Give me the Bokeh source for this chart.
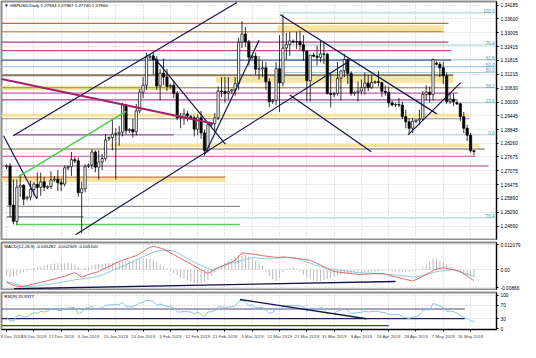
import pandas as pd
from bokeh.plotting import figure
from bokeh.layouts import column
from bokeh.models import ColumnDataSource, FixedTicker, PrintfTickFormatter, Label, Range1d
from bokeh.core.properties import value
from bokeh.embed import file_html
from bokeh.resources import INLINE

FONT = "Liberation Sans"

# ---------------- data ----------------
dates = [d for d in pd.date_range("2018-12-09", "2019-05-17") if d.dayofweek != 5]

opens = [1.2725,1.2728,1.2560,1.2490,1.2637,1.2645,1.2590,1.2594,1.2627,1.2650,1.2636,1.2660,
         1.2635,1.2640,1.2668,1.2672,1.2656,1.2650,1.2720,1.2725,1.2755,1.2750,1.2613,1.2630,
         1.2728,1.2732,1.2788,1.2723,1.2745,1.2760,1.2845,1.2850,1.2865,1.2867,1.2873,1.2990,
         1.2880,1.2885,1.2875,1.2965,1.3045,1.3075,1.3195,1.3200,1.3185,1.3072,1.3127,1.3110,
         1.3070,1.3075,1.3040,1.2935,1.2935,1.2952,1.2940,1.2935,1.2886,1.2935,1.2870,1.2795,
         1.2905,1.2910,1.2935,1.3050,1.3048,1.3041,1.3050,1.3055,1.3082,1.3260,1.3295,1.3262,
         1.3195,1.3200,1.3144,1.3145,1.3150,1.3090,1.3005,1.3010,1.3146,1.3085,1.3235,1.3250,
         1.3265,1.3262,1.3263,1.3249,1.3222,1.3095,1.3205,1.3200,1.3195,1.3210,1.3208,1.3040,
         1.3035,1.3040,1.3105,1.3137,1.3185,1.3125,1.3040,1.3045,1.3050,1.3065,1.3085,1.3065,
         1.3087,1.3090,1.3086,1.3049,1.3045,1.2999,1.2990,1.2992,1.2990,1.2940,1.2918,1.2890,
         1.2920,1.2925,1.2930,1.3035,1.3045,1.3035,1.3170,1.3165,1.3150,1.3115,1.3005,1.3015,
         1.3000,1.2995,1.2940,1.2890,1.2860,1.27934]
highs = [1.2735,1.2740,1.2670,1.2670,1.2692,1.2650,1.2598,1.2665,1.2660,1.2700,1.2700,1.2680,
         1.2645,1.2705,1.2685,1.2710,1.2675,1.2730,1.2730,1.2788,1.2768,1.2765,1.2660,1.2735,
         1.2738,1.2800,1.2795,1.2795,1.2780,1.2865,1.2855,1.2930,1.2890,1.2900,1.3000,1.2995,
         1.2890,1.2930,1.2995,1.3060,1.3110,1.3215,1.3210,1.3215,1.3200,1.3145,1.3190,1.3145,
         1.3080,1.3095,1.3050,1.2955,1.2975,1.2965,1.2948,1.2945,1.2950,1.2965,1.2885,1.2915,
         1.2915,1.2955,1.3070,1.3110,1.3110,1.3110,1.3060,1.3110,1.3280,1.3350,1.3325,1.3270,
         1.3205,1.3215,1.3200,1.3180,1.3175,1.3105,1.3015,1.3175,1.3290,1.3380,1.3300,1.3305,
         1.3272,1.3305,1.3310,1.3290,1.3225,1.3205,1.3215,1.3245,1.3265,1.3265,1.3215,1.3125,
         1.3045,1.3175,1.3140,1.3210,1.3190,1.3135,1.3048,1.3090,1.3100,1.3130,1.3120,1.3120,
         1.3095,1.3135,1.3090,1.3075,1.3070,1.3010,1.2998,1.3020,1.3005,1.2970,1.2935,1.2935,
         1.2928,1.2970,1.3050,1.3075,1.3070,1.3190,1.3178,1.3175,1.3175,1.3130,1.3045,1.3040,
         1.3008,1.3000,1.2960,1.2905,1.2870,1.27967]
lows = [1.2715,1.2507,1.2477,1.2476,1.2595,1.2560,1.2580,1.2580,1.2600,1.2590,1.2600,1.2620,
        1.2628,1.2630,1.2660,1.2620,1.2620,1.2640,1.2710,1.2685,1.2740,1.2596,1.2438,1.2615,
        1.2720,1.2715,1.2700,1.2670,1.2710,1.2750,1.2835,1.2795,1.2670,1.2815,1.2855,1.2865,
        1.2870,1.2850,1.2860,1.2955,1.3020,1.3055,1.3185,1.3120,1.3055,1.3010,1.3075,1.3050,
        1.3060,1.3020,1.2925,1.2890,1.2905,1.2920,1.2930,1.2855,1.2860,1.2845,1.2773,1.2785,
        1.2895,1.2880,1.2925,1.3025,1.3000,1.3015,1.3040,1.3030,1.3055,1.3235,1.3240,1.3160,
        1.3185,1.3120,1.3100,1.3110,1.3055,1.2980,1.2995,1.2990,1.2960,1.3070,1.3185,1.3200,
        1.3255,1.3230,1.3225,1.3180,1.3005,1.3005,1.3195,1.3160,1.3175,1.3165,1.3035,1.2980,
        1.3025,1.3030,1.3010,1.3110,1.3080,1.3030,1.3030,1.3005,1.3035,1.3035,1.3050,1.3060,
        1.3080,1.3070,1.3025,1.3030,1.2980,1.2985,1.2982,1.2980,1.2930,1.2890,1.2866,1.2870,
        1.2912,1.2905,1.2920,1.3010,1.3000,1.3010,1.3160,1.3110,1.3080,1.2995,1.2995,1.2985,
        1.2990,1.2920,1.2870,1.2835,1.2785,1.27740]
closes = [1.2728,1.2560,1.2490,1.2637,1.2645,1.2585,1.2594,1.2627,1.2650,1.2636,1.2660,1.2637,
          1.2640,1.2668,1.2672,1.2656,1.2650,1.2720,1.2725,1.2755,1.2750,1.2613,1.2630,1.2725,
          1.2732,1.2788,1.2723,1.2745,1.2760,1.2840,1.2850,1.2865,1.2867,1.2873,1.2990,1.2880,
          1.2885,1.2875,1.2965,1.3045,1.3075,1.3195,1.3200,1.3185,1.3072,1.3127,1.3110,1.3070,
          1.3075,1.3040,1.2935,1.2935,1.2952,1.2943,1.2935,1.2886,1.2935,1.2870,1.2795,1.2905,
          1.2910,1.2935,1.3050,1.3048,1.3041,1.3048,1.3055,1.3082,1.3260,1.3295,1.3262,1.3195,
          1.3200,1.3144,1.3145,1.3150,1.3090,1.3005,1.3010,1.3146,1.3085,1.3235,1.3250,1.3265,
          1.3262,1.3263,1.3249,1.3222,1.3095,1.3205,1.3200,1.3195,1.3210,1.3208,1.3040,1.3035,
          1.3040,1.3105,1.3137,1.3185,1.3125,1.3040,1.3045,1.3050,1.3065,1.3085,1.3065,1.3087,
          1.3090,1.3086,1.3049,1.3045,1.2999,1.2990,1.2992,1.2990,1.2940,1.2918,1.2890,1.2920,
          1.2925,1.2930,1.3035,1.3045,1.3035,1.3185,1.3165,1.3150,1.3115,1.3005,1.3015,1.3004,
          1.2995,1.2940,1.2890,1.2860,1.2793,1.27900]

macd_main = [-0.0060,-0.0068,-0.0076,-0.0080,-0.0082,-0.0080,-0.0077,-0.0073,-0.0069,-0.0065,
             -0.0061,-0.0057,-0.0053,-0.0049,-0.0045,-0.0040,-0.0036,-0.0032,-0.0026,-0.0020,
             -0.0014,-0.0025,-0.0036,-0.0030,-0.0024,-0.0018,-0.0014,-0.0009,0.0000,0.0008,
             0.0016,0.0024,0.0032,0.0039,0.0046,0.0052,0.0057,0.0063,0.0068,0.0078,
             0.0088,0.0100,0.0108,0.0114,0.0110,0.0105,0.0100,0.0091,0.0082,0.0073,
             0.0064,0.0055,0.0046,0.0037,0.0028,0.0018,0.0009,0.0000,-0.0010,-0.0018,
             -0.0009,0.0000,0.0009,0.0016,0.0024,0.0031,0.0038,0.0046,0.0064,0.0082,
             0.0080,0.0078,0.0076,0.0074,0.0071,0.0068,0.0066,0.0064,0.0062,0.0060,
             0.0060,0.0062,0.0061,0.0059,0.0057,0.0055,0.0053,0.0050,0.0048,0.0046,
             0.0038,0.0030,0.0022,0.0014,0.0006,-0.0002,-0.0009,-0.0011,-0.0013,-0.0015,
             -0.0017,-0.0019,-0.0021,-0.0023,-0.0023,-0.0022,-0.0021,-0.0020,-0.0019,-0.0019,
             -0.0018,-0.0022,-0.0026,-0.0031,-0.0035,-0.0039,-0.0043,-0.0047,-0.0051,-0.0055,
             -0.0048,-0.0040,-0.0032,-0.0023,-0.0015,-0.0005,0.0003,0.0007,0.0009,0.0006,
             0.0003,0.0000,-0.0004,-0.0009,-0.0020,-0.0031,-0.0043,-0.0053]
macd_signal = [-0.0058,-0.0062,-0.0067,-0.0072,-0.0076,-0.0080,-0.0082,-0.0081,-0.0080,-0.0078,
               -0.0076,-0.0074,-0.0072,-0.0069,-0.0067,-0.0064,-0.0061,-0.0058,-0.0055,-0.0052,
               -0.0049,-0.0047,-0.0045,-0.0043,-0.0041,-0.0038,-0.0035,-0.0032,-0.0025,-0.0018,
               -0.0011,-0.0004,0.0003,0.0010,0.0017,0.0024,0.0032,0.0039,0.0047,0.0055,
               0.0062,0.0070,0.0077,0.0084,0.0091,0.0093,0.0094,0.0094,0.0093,0.0091,
               0.0082,0.0073,0.0064,0.0054,0.0045,0.0036,0.0029,0.0021,0.0014,0.0007,
               0.0000,0.0005,0.0011,0.0016,0.0021,0.0027,0.0032,0.0037,0.0041,0.0046,
               0.0050,0.0055,0.0059,0.0058,0.0056,0.0055,0.0055,0.0056,0.0056,0.0057,
               0.0057,0.0058,0.0058,0.0059,0.0059,0.0054,0.0048,0.0042,0.0037,0.0031,
               0.0026,0.0020,0.0015,0.0009,0.0007,0.0004,0.0002,0.0000,-0.0003,-0.0005,
               -0.0007,-0.0009,-0.0012,-0.0014,-0.0015,-0.0016,-0.0017,-0.0018,-0.0019,-0.0020,
               -0.0021,-0.0022,-0.0023,-0.0025,-0.0026,-0.0028,-0.0030,-0.0031,-0.0033,-0.0035,
               -0.0036,-0.0032,-0.0027,-0.0023,-0.0018,-0.0014,-0.0009,-0.0007,-0.0005,-0.0004,
               -0.0002,0.0000,-0.0005,-0.0011,-0.0016,-0.0021,-0.0027,-0.0032]
macd_hist = [-0.0030,-0.0036,-0.0034,-0.0028,-0.0020,-0.0012,-0.0006,0.0004,0.0008,0.0012,
             0.0016,0.0020,0.0024,0.0028,0.0030,0.0032,0.0032,0.0030,0.0032,0.0030,
             0.0026,0.0012,0.0004,0.0010,0.0014,0.0020,0.0024,0.0026,0.0028,0.0030,
             0.0032,0.0034,0.0036,0.0038,0.0040,0.0042,0.0044,0.0046,0.0050,0.0052,
             0.0055,0.0054,0.0052,0.0046,0.0036,0.0026,0.0016,0.0006,-0.0006,-0.0016,
             -0.0026,-0.0036,-0.0044,-0.0052,-0.0060,-0.0066,-0.0068,-0.0064,-0.0058,-0.0050,
             -0.0030,-0.0012,0.0006,0.0020,0.0032,0.0042,0.0052,0.0060,0.0070,0.0078,
             0.0072,0.0064,0.0054,0.0044,0.0032,0.0018,-0.0010,-0.0030,-0.0048,-0.0055,
             -0.0040,-0.0012,0.0004,0.0008,0.0010,0.0006,-0.0010,-0.0024,-0.0036,-0.0046,
             -0.0052,-0.0055,-0.0054,-0.0050,-0.0046,-0.0040,-0.0034,-0.0028,-0.0024,-0.0020,
             -0.0018,-0.0016,-0.0016,-0.0018,-0.0018,-0.0016,-0.0014,-0.0012,-0.0010,-0.0008,
             -0.0006,-0.0004,-0.0004,-0.0006,-0.0008,-0.0010,-0.0012,-0.0012,-0.0010,-0.0008,
             -0.0004,0.0004,0.0012,0.0024,0.0040,0.0055,0.0054,0.0046,0.0036,0.0024,
             0.0012,0.0002,-0.0008,-0.0016,-0.0024,-0.0030,-0.0034,-0.0036]
rsi = [33,24,22,38,40,34,36,43,48,46,52,50,53,58,59,55,54,60,62,64,63,45,48,62,
       63,68,58,61,63,70,71,72,73,73,79,66,66,65,72,77,79,85,85,82,70,74,71,66,
       67,62,50,50,52,51,50,44,50,43,36,50,51,54,66,65,64,65,66,68,82,86,80,70,
       71,63,63,64,56,46,48,62,56,68,69,70,70,70,68,66,52,62,61,60,62,61,45,45,
       46,53,56,60,54,46,47,48,49,52,50,52,52,52,48,48,43,42,42,42,36,33,30,35,
       36,40,55,57,56,76,72,68,63,52,53,51,47,40,33,30,23,21]

tick_labels = ["9 Dec 2018", "18 Dec 2018", "27 Dec 2018", "6 Jan 2019", "15 Jan 2019",
               "24 Jan 2019", "3 Feb 2019", "12 Feb 2019", "21 Feb 2019", "3 Mar 2019",
               "12 Mar 2019", "21 Mar 2019", "31 Mar 2019", "9 Apr 2019", "18 Apr 2019",
               "28 Apr 2019", "7 May 2019", "16 May 2019"]
price_ticks = [1.34185, 1.33600, 1.33005, 1.32415, 1.31815, 1.31215, 1.30630, 1.30030, 1.29445,
               1.28845, 1.28260, 1.27675, 1.27075, 1.26475, 1.25890, 1.25290, 1.24690, 1.24105]
macd_ticks = [0.012079, 0.0, -0.00866]
macd_tick_text = ["0.012079", "0.00", "-0.00866"]
rsi_ticks = [100, 70, 30, 0]

# support / resistance levels (price) and bands (price pairs)
level_prices = [1.3341, 1.3305, 1.3260, 1.3224, 1.3183, 1.3155, 1.3118, 1.3065, 1.3041, 1.3012,
                1.2931, 1.2862, 1.2801, 1.2769, 1.2728, 1.2680, 1.2554, 1.2509, 1.2477]
band_top = [1.3333, 1.3110, 1.3073, 1.2952, 1.2822, 1.2676]
band_bottom = [1.3305, 1.3086, 1.3053, 1.2940, 1.2810, 1.2659]
fib_prices = [1.3386, 1.3248, 1.3185, 1.3155, 1.3130, 1.3065, 1.3000, 1.2862, 1.2505]
fib_text = ["100.0", "76.4", "61.8", "50.0", "50.0", "38.2", "23.6", "0.0", "76.4"]
last_price = 1.27900

# ---------------- layout / styles ----------------
X0, X1 = -1.5, 143.6
FW = 495
level_span = [(-1.5, 129.5), (-1.5, 128.1), (-1.5, 129.5), (-1.5, 130.3), (-1.5, 130.3),
              (-1.5, 143.6), (-1.5, 130.9), (-1.5, 133.2), (-1.5, 132.3), (-1.5, 132.3),
              (-1.5, 135.7), (2.2, 49.0), (-1.5, 140.2), (-1.5, 137.4), (-1.5, 141.3),
              (-1.5, 64.1), (0.0, 68.4), (0.0, 22.5), (2.7, 68.4)]
level_color = ["#c8683c", "#d26a24", "#b23c96", "#c04a9e", "#3d5aa8", "#a9c9e6", "#8a7a58",
               "#a8a050", "#c45aa8", "#a8409c", "#a08868", "#9040a0", "#a09482", "#d070b8",
               "#a040a0", "#c8703a", "#8a9098", "#5e7070", "#5ad25a"]
level_width = [1.2, 1.2, 1.2, 1.2, 1.3, 1.2, 1.8, 1.2, 1.2, 1.2, 1.0, 1.2, 1.4, 1.2, 1.2, 1.2,
               1.2, 1.2, 1.5]
band_span = [(79.4, 128.1), (61.3, 130.9), (-1.5, 49.0), (-1.5, 135.7), (30.3, 138.5), (-1.5, 64.1)]
fib_span = [(80.2, 143.6)] * 7 + [(49.0, 143.6), (22.5, 143.6)]

# trend lines: (bar, price) -> (bar, price)
trend_lines = [((1.9, 1.2858), (67.5, 1.3431)), ((20.2, 1.2432), (100.5, 1.3179)),
               ((80.2, 1.3378), (126.1, 1.2952)), ((42.7, 1.3203), (64.1, 1.2822)),
               ((58.2, 1.2781), (74.0, 1.3268)), ((83.0, 1.3033), (106.9, 1.2789)),
               ((117.7, 1.2862), (133.1, 1.3086)), ((-0.9, 1.2858), (8.9, 1.2586))]
magenta_line = ((-1.5, 1.3102), (60.5, 1.2911))
green_line = ((3.3, 1.2680), (35.1, 1.2964))
macd_trend = ((2.2, -0.0092), (114.0, -0.0057))
rsi_levels = [59, 30, 9]
rsi_level_span = [(-1.5, 134.3), (-1.5, 134.3), (-1.5, 112.0)]
rsi_level_color = ["#505078", "#202060", "#3a3a98"]
rsi_trend = ((68.4, 88), (105.5, 29.4))

idx = list(range(len(dates)))
tick_pos = [dates.index(pd.to_datetime(t, format="%d %b %Y")) for t in tick_labels]

GRID = "#b4b4b4"
OUTLINE = "#8c8c8c"


def style(fig):
    fig.outline_line_color = OUTLINE
    fig.outline_line_width = 2
    fig.xgrid.ticker = FixedTicker(ticks=tick_pos)
    for g in (fig.xgrid, fig.ygrid):
        g.grid_line_color = GRID
        g.grid_line_dash = "1 2"
        g.grid_line_width = 0.7
    ax = fig.yaxis[0]
    ax.axis_line_color = "black"
    ax.axis_line_width = 1
    ax.major_tick_line_color = "black"
    ax.major_tick_out = 2
    ax.major_tick_in = 0
    ax.minor_tick_line_color = None
    ax.major_label_standoff = 2
    ax.major_label_text_font = FONT
    ax.major_label_text_font_size = "4.8px"
    ax.major_label_text_color = "black"


common = dict(output_backend="svg", toolbar_location=None, y_axis_location="right",
              frame_width=FW, min_border_left=1, min_border_right=24)

# ---------------- main price panel ----------------
p = figure(frame_height=238, x_range=Range1d(X0, X1), y_range=Range1d(1.2412, 1.3435),
           min_border_top=1, min_border_bottom=1, **common)
style(p)
p.xaxis.visible = False
p.yaxis.ticker = FixedTicker(ticks=price_ticks)
p.yaxis.formatter = PrintfTickFormatter(format="%.5f")

# bands
p.quad(left=[s[0] for s in band_span], right=[s[1] for s in band_span],
       top=band_top, bottom=band_bottom, fill_color="#f6e08c", fill_alpha=0.85, line_color=None)
# fib lines
p.segment(x0=[s[0] for s in fib_span], x1=[s[1] for s in fib_span], y0=fib_prices, y1=fib_prices,
          line_color="#9fd2d2", line_width=1)
# levels
p.segment(x0=[s[0] for s in level_span], x1=[s[1] for s in level_span],
          y0=level_prices, y1=level_prices, line_color=level_color, line_width=level_width)

# candles
csrc = ColumnDataSource(dict(
    x=idx, h=highs, l=lows,
    top=[max(o, c) for o, c in zip(opens, closes)],
    bot=[min(o, c) for o, c in zip(opens, closes)],
    fill=["white" if c >= o else "black" for o, c in zip(opens, closes)]))
p.segment(x0="x", x1="x", y0="h", y1="l", source=csrc, line_color="black", line_width=0.8)
p.vbar(x="x", width=0.66, top="top", bottom="bot", fill_color="fill", line_color="black",
       line_width=0.7, source=csrc)

# trend lines
p.segment(x0=[t[0][0] for t in trend_lines], y0=[t[0][1] for t in trend_lines],
          x1=[t[1][0] for t in trend_lines], y1=[t[1][1] for t in trend_lines],
          line_color="#14144e", line_width=1.2)
p.segment(x0=[magenta_line[0][0]], y0=[magenta_line[0][1]], x1=[magenta_line[1][0]],
          y1=[magenta_line[1][1]], line_color="#a3206c", line_width=2)
p.segment(x0=[green_line[0][0]], y0=[green_line[0][1]], x1=[green_line[1][0]],
          y1=[green_line[1][1]], line_color="#46d046", line_width=1.4)

# fib labels
p.text(x=[X1 - 0.6] * len(fib_prices), y=fib_prices, text=fib_text, text_align="right",
       text_baseline="bottom", text_font=value(FONT), text_font_size="4.5px",
       text_color="#4e9a9a")

p.add_layout(Label(x=X0 + 0.8, y=1.3435, y_offset=-1.5, text="▼ GBPUSD,Daily  1.27934 1.27967 1.27740 1.27900",
                   text_font=FONT, text_font_size="4.4px", text_color="black", text_baseline="top"))
p.add_layout(Label(x=X1, y=last_price, x_offset=1, text=" 1.27900 ", text_font=FONT,
                   text_font_size="4.8px", text_color="white", background_fill_color="black",
                   text_baseline="middle", text_align="left"))

# ---------------- MACD panel ----------------
pm = figure(frame_height=47, x_range=p.x_range, y_range=Range1d(-0.0096, 0.0132),
            min_border_top=2, min_border_bottom=1, **common)
style(pm)
pm.xaxis.visible = False
pm.yaxis.ticker = FixedTicker(ticks=macd_ticks)
pm.yaxis.major_label_overrides = dict(zip(macd_ticks, macd_tick_text))
pm.vbar(x=idx, top=macd_hist, bottom=0, width=0.28, fill_color="#b8b8b8", line_color=None)
pm.line(idx, macd_signal, line_color="#7cc8e4", line_width=0.9)
pm.line(idx, macd_main, line_color="#e05a5a", line_width=0.9)
pm.segment(x0=[macd_trend[0][0]], y0=[macd_trend[0][1]], x1=[macd_trend[1][0]],
           y1=[macd_trend[1][1]], line_color="#14144e", line_width=1.4)
pm.add_layout(Label(x=X0 + 0.8, y=0.0132, y_offset=-1.5,
                    text="MACD(12,26,9) -0.005282 -0.002509 -0.005100", text_font=FONT,
                    text_font_size="4.4px", text_color="black", text_baseline="top"))

# ---------------- RSI panel ----------------
pr = figure(frame_height=37, x_range=p.x_range, y_range=Range1d(-3, 109),
            min_border_top=2, min_border_bottom=12, **common)
style(pr)
pr.yaxis.ticker = FixedTicker(ticks=rsi_ticks)
pr.yaxis.formatter = PrintfTickFormatter(format="%d")
xa = pr.xaxis[0]
xa.ticker = FixedTicker(ticks=tick_pos)
xa.major_label_overrides = dict(zip(tick_pos, tick_labels))
xa.major_label_text_align = "left"
xa.major_label_text_font = FONT
xa.major_label_text_font_size = "4.4px"
xa.major_label_standoff = 2
xa.axis_line_color = "black"
xa.major_tick_line_color = "black"
xa.major_tick_out = 2
xa.major_tick_in = 0
xa.minor_tick_line_color = None
pr.segment(x0=[s[0] for s in rsi_level_span], x1=[s[1] for s in rsi_level_span],
           y0=rsi_levels, y1=rsi_levels, line_color=rsi_level_color, line_width=1.2)
pr.line(idx, rsi, line_color="#78bde2", line_width=0.9)
pr.segment(x0=[rsi_trend[0][0]], y0=[rsi_trend[0][1]], x1=[rsi_trend[1][0]],
           y1=[rsi_trend[1][1]], line_color="#14144e", line_width=1.4)
pr.add_layout(Label(x=X0 + 0.8, y=109, y_offset=-1.5, text="RSI(9) 20.8377", text_font=FONT,
                    text_font_size="4.4px", text_color="black", text_baseline="top"))

layout = column(p, pm, pr, spacing=0)
open("out.html", "w").write(file_html(layout, INLINE))
